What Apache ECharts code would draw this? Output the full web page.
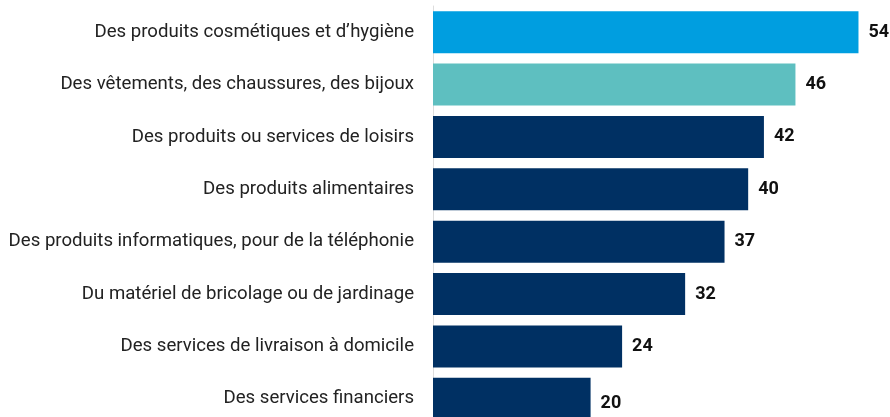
<!DOCTYPE html>
<html>
<head>
<meta charset="utf-8">
<script src="https://cdn.jsdelivr.net/npm/echarts@6/dist/echarts.min.js"></script>
<style>
  html, body { margin: 0; padding: 0; background: #fff; }
  #chart { width: 890px; height: 417px; }
</style>
</head>
<body>
<div id="chart"></div>
<script>
var categories = [
    'Des produits cosmétiques et d\u2019hygiène',
    'Des vêtements, des chaussures, des bijoux',
    'Des produits ou services de loisirs',
    'Des produits alimentaires',
    'Des produits informatiques, pour de la téléphonie',
    'Du matériel de bricolage ou de jardinage',
    'Des services de livraison à domicile',
    'Des services financiers'
];
var values = [54, 46, 42, 40, 37, 32, 24, 20];
var barColors = ['#009ee0', '#5ebfc0', '#003063', '#003063', '#003063', '#003063', '#003063', '#003063'];

(function() {
    "use strict";
    var chart = echarts.init(document.getElementById('chart'));
    var data = values.map(function(v, i) {
        var item = { value: v, itemStyle: { color: barColors[i] } };
        if (i === values.length - 1) {
            item.label = { offset: [0, 5] };
        }
        return item;
    });
    var option = {
        animation: false,
        textStyle: { fontFamily: 'Roboto' },
        grid: {
            left: 433,
            right: 0,
            top: 6,
            height: 419,
            outerBoundsMode: 'none',
            containLabel: false
        },
        xAxis: {
            type: 'value',
            min: 0,
            max: 58,
            show: false
        },
        yAxis: {
            type: 'category',
            inverse: true,
            data: categories,
            axisLine: { show: true, lineStyle: { color: '#dddddd', width: 1 } },
            axisTick: { show: false },
            axisLabel: {
                color: '#222222',
                fontSize: 18.6,
                margin: 19,
                fontFamily: 'Roboto'
            }
        },
        series: [
            {
                type: 'bar',
                data: data,
                barCategoryGap: '20%',
                label: {
                    show: true,
                    position: 'right',
                    distance: 10,
                    color: '#111111',
                    fontSize: 18,
                    fontWeight: 'bold',
                    fontFamily: 'Roboto'
                }
            }
        ]
    };
    chart.setOption(option);
})();
</script>
</body>
</html>
